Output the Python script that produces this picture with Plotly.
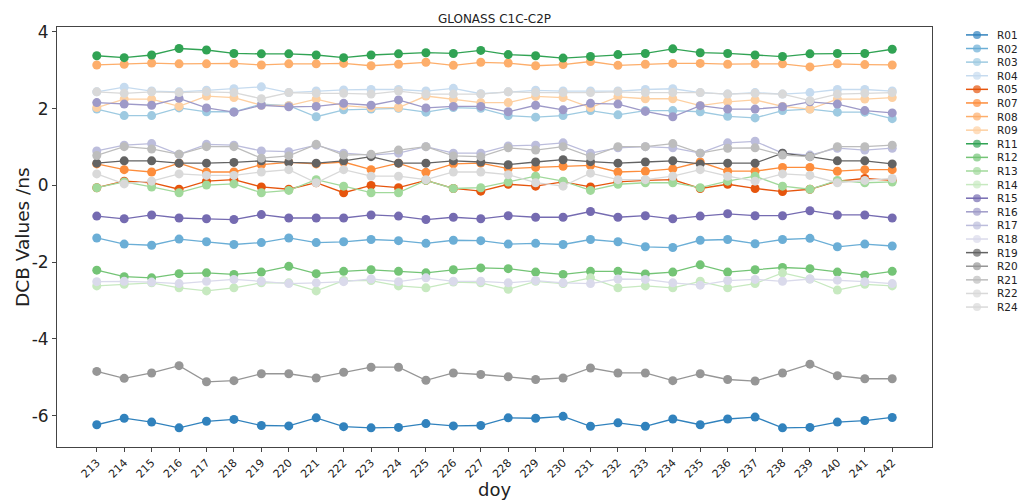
import plotly.graph_objects as go

doy = [213, 214, 215, 216, 217, 218, 219, 220, 221, 222, 223, 224, 225, 226, 227,
       228, 229, 230, 231, 232, 233, 234, 235, 236, 237, 238, 239, 240, 241, 242]

names = ["R01", "R02", "R03", "R04", "R05", "R07", "R08", "R09", "R11", "R12", "R13", "R14",
         "R15", "R16", "R17", "R18", "R19", "R20", "R21", "R22", "R24"]

colors = ["#3182bd", "#6baed6", "#9ecae1", "#c6dbef", "#e6550d", "#fd8d3c", "#fdae6b", "#fdd0a2",
          "#31a354", "#74c476", "#a1d99b", "#c7e9c0", "#756bb1", "#9e9ac8", "#bcbddc", "#dadaeb",
          "#636363", "#969696", "#bdbdbd", "#d9d9d9", "#d9d9d9"]

y_ticks = [-6, -4, -2, 0, 2, 4]
y_tick_labels = ["-6", "-4", "-2", "0", "2", "4"]

R01 = [-6.24, -6.07, -6.17, -6.32, -6.15, -6.10, -6.26, -6.27, -6.06, -6.29, -6.32, -6.31, -6.21, -6.27, -6.26,
       -6.06, -6.07, -6.02, -6.28, -6.19, -6.28, -6.09, -6.24, -6.09, -6.04, -6.32, -6.31, -6.17, -6.13, -6.05]
R02 = [-1.37, -1.53, -1.56, -1.40, -1.47, -1.54, -1.49, -1.37, -1.49, -1.47, -1.41, -1.44, -1.51, -1.43, -1.44,
       -1.53, -1.51, -1.54, -1.41, -1.47, -1.60, -1.62, -1.43, -1.41, -1.52, -1.41, -1.38, -1.60, -1.53, -1.58]
R03 = [1.99, 1.82, 1.82, 2.02, 1.92, 1.92, 2.12, 2.08, 1.79, 1.97, 1.99, 2.01, 1.91, 2.03, 2.01,
       1.82, 1.78, 1.82, 1.95, 1.84, 1.95, 1.95, 1.92, 1.80, 1.76, 1.95, 1.99, 1.91, 1.91, 1.74]
R04 = [2.44, 2.56, 2.46, 2.44, 2.48, 2.52, 2.57, 2.42, 2.46, 2.49, 2.50, 2.50, 2.46, 2.53, 2.39,
       2.44, 2.48, 2.46, 2.46, 2.46, 2.50, 2.52, 2.42, 2.38, 2.42, 2.38, 2.42, 2.50, 2.50, 2.46]
R05 = [-0.06, 0.11, 0.07, -0.10, 0.11, 0.15, -0.04, -0.10, 0.07, -0.19, 0.00, -0.06, 0.13, -0.08, -0.15,
       0.03, -0.02, 0.09, -0.04, 0.09, 0.13, 0.15, -0.08, 0.03, -0.08, -0.16, -0.10, 0.11, 0.18, 0.13]
R07 = [0.56, 0.41, 0.35, 0.58, 0.35, 0.35, 0.54, 0.60, 0.56, 0.61, 0.41, 0.58, 0.34, 0.56, 0.58,
       0.44, 0.47, 0.50, 0.52, 0.35, 0.37, 0.43, 0.61, 0.37, 0.37, 0.47, 0.47, 0.37, 0.41, 0.41]
R08 = [3.14, 3.16, 3.19, 3.17, 3.17, 3.18, 3.14, 3.17, 3.17, 3.18, 3.12, 3.16, 3.21, 3.13, 3.21,
       3.19, 3.12, 3.15, 3.23, 3.13, 3.16, 3.18, 3.18, 3.16, 3.17, 3.17, 3.09, 3.17, 3.15, 3.14]
R09 = [2.03, 2.25, 2.25, 2.06, 2.33, 2.29, 2.09, 2.08, 2.25, 2.08, 2.03, 2.03, 2.33, 2.25, 2.16,
       2.16, 2.32, 2.29, 2.03, 2.31, 2.26, 2.26, 2.08, 2.18, 2.23, 2.06, 1.99, 2.25, 2.25, 2.29]
R11 = [3.38, 3.33, 3.40, 3.57, 3.53, 3.44, 3.43, 3.43, 3.40, 3.33, 3.40, 3.43, 3.46, 3.44, 3.52,
       3.41, 3.38, 3.32, 3.36, 3.41, 3.44, 3.56, 3.46, 3.44, 3.40, 3.36, 3.43, 3.44, 3.44, 3.55]
R12 = [-2.21, -2.38, -2.41, -2.30, -2.28, -2.32, -2.26, -2.11, -2.30, -2.24, -2.20, -2.24, -2.28, -2.20, -2.15,
       -2.17, -2.26, -2.32, -2.24, -2.24, -2.31, -2.26, -2.07, -2.26, -2.20, -2.14, -2.17, -2.26, -2.34, -2.24]
R13 = [-0.06, 0.09, -0.04, -0.19, 0.01, 0.04, -0.19, -0.13, 0.15, -0.02, -0.19, -0.19, 0.13, -0.08, -0.06,
       0.09, 0.24, 0.11, -0.13, 0.03, 0.07, 0.07, -0.06, 0.11, 0.24, -0.02, -0.10, 0.13, 0.07, 0.09]
R14 = [-2.62, -2.58, -2.54, -2.67, -2.75, -2.67, -2.54, -2.54, -2.75, -2.48, -2.48, -2.62, -2.67, -2.52, -2.54,
       -2.71, -2.50, -2.56, -2.41, -2.67, -2.62, -2.67, -2.50, -2.67, -2.56, -2.28, -2.44, -2.73, -2.58, -2.62]
R15 = [-0.80, -0.87, -0.77, -0.85, -0.87, -0.89, -0.76, -0.85, -0.85, -0.85, -0.77, -0.80, -0.89, -0.83, -0.87,
       -0.79, -0.83, -0.83, -0.68, -0.83, -0.79, -0.87, -0.80, -0.74, -0.79, -0.79, -0.66, -0.77, -0.77, -0.85]
R16 = [2.16, 2.12, 2.09, 2.27, 2.02, 1.91, 2.09, 2.05, 2.06, 2.14, 2.09, 2.23, 2.02, 2.06, 2.06,
       1.92, 2.09, 1.97, 2.14, 2.12, 1.93, 1.79, 2.08, 1.99, 1.99, 2.05, 2.18, 2.12, 1.95, 1.89]
R17 = [0.90, 1.05, 1.09, 0.81, 1.07, 1.05, 0.90, 0.88, 1.05, 0.84, 0.79, 0.84, 1.01, 0.84, 0.84,
       1.03, 1.05, 1.11, 0.84, 0.98, 1.01, 0.98, 0.84, 1.11, 1.15, 0.84, 0.79, 0.97, 0.92, 0.97]
R18 = [-2.51, -2.50, -2.52, -2.56, -2.50, -2.45, -2.50, -2.56, -2.54, -2.51, -2.44, -2.51, -2.41, -2.50, -2.50,
       -2.54, -2.48, -2.54, -2.56, -2.44, -2.45, -2.54, -2.60, -2.48, -2.45, -2.50, -2.44, -2.47, -2.51, -2.56]
R19 = [0.58, 0.64, 0.64, 0.58, 0.58, 0.60, 0.64, 0.60, 0.58, 0.64, 0.75, 0.58, 0.58, 0.64, 0.61,
       0.54, 0.61, 0.67, 0.62, 0.58, 0.61, 0.64, 0.56, 0.58, 0.58, 0.84, 0.75, 0.64, 0.64, 0.56]
R20 = [-4.85, -5.03, -4.89, -4.70, -5.12, -5.09, -4.91, -4.91, -5.02, -4.87, -4.74, -4.74, -5.08, -4.89, -4.93,
       -4.99, -5.06, -5.02, -4.76, -4.89, -4.89, -5.09, -4.91, -5.06, -5.10, -4.89, -4.66, -4.96, -5.04, -5.04]
R21 = [0.78, 1.01, 0.95, 0.81, 1.01, 1.01, 0.71, 0.77, 1.07, 0.79, 0.81, 0.92, 1.01, 0.77, 0.75,
       0.98, 0.92, 1.01, 0.75, 1.01, 1.01, 1.09, 0.84, 0.97, 0.98, 0.79, 0.75, 1.01, 1.01, 1.05]
R22 = [2.44, 2.40, 2.44, 2.42, 2.44, 2.42, 2.26, 2.42, 2.40, 2.40, 2.38, 2.46, 2.38, 2.38, 2.38,
       2.44, 2.42, 2.42, 2.42, 2.44, 2.42, 2.42, 2.42, 2.38, 2.40, 2.38, 2.21, 2.38, 2.40, 2.42]
R24 = [0.30, 0.04, 0.11, 0.30, 0.26, 0.26, 0.35, 0.41, 0.07, 0.41, 0.24, 0.24, 0.15, 0.35, 0.35,
       0.28, 0.07, -0.02, 0.32, 0.15, 0.15, 0.24, 0.41, 0.24, 0.11, 0.30, 0.26, 0.07, 0.13, 0.18]

series = [R01, R02, R03, R04, R05, R07, R08, R09, R11, R12, R13, R14,
          R15, R16, R17, R18, R19, R20, R21, R22, R24]

# layout geometry (pixels)
W, H = 1030, 500
ML, MR, MT, MB = 57, 5, 27, 48
PW = W - ML - MR
PLOT_RIGHT = 932
LEG_X0 = 955
LEG_TOP, LEG_STEP = 35, 13.77

fig = go.Figure()
for name, color, vals in zip(names, colors, series):
    fig.add_trace(go.Scatter(
        x=doy, y=vals, mode="lines+markers", name=name,
        line=dict(color=color, width=1.3),
        marker=dict(size=9, color=color, line=dict(width=0)),
        showlegend=False, xaxis="x", yaxis="y"))

# hand-built legend (compact, matplotlib-like spacing)
annotations = []
for k, (name, color) in enumerate(zip(names, colors)):
    yk = LEG_TOP + k * LEG_STEP
    fig.add_trace(go.Scatter(
        x=[966, 977, 988], y=[yk, yk, yk], mode="lines+markers",
        line=dict(color=color, width=1.5),
        marker=dict(size=[0, 8, 0], color=color, line=dict(width=0)),
        showlegend=False, hoverinfo="skip", xaxis="x2", yaxis="y2"))
    annotations.append(dict(x=995, y=yk, xref="x2", yref="y2", text=name,
                            showarrow=False, xanchor="left", yanchor="middle",
                            font=dict(size=10.5, color="#222", family="DejaVu Sans")))

# y-axis title placed like matplotlib's
annotations.append(dict(x=(22 - ML) / PW, y=0.5, xref="paper", yref="paper",
                        text="DCB Values /ns", textangle=-90, showarrow=False,
                        xanchor="center", yanchor="middle",
                        font=dict(size=18.5, color="#222", family="DejaVu Sans")))

axis_common = dict(showline=True, mirror=True, linecolor="#444", linewidth=1,
                   ticks="outside", ticklen=4, tickcolor="#444",
                   showgrid=False, zeroline=False)

fig.update_layout(
    width=W, height=H,
    margin=dict(l=ML, r=MR, t=MT, b=MB),
    paper_bgcolor="white", plot_bgcolor="white",
    font=dict(family="DejaVu Sans", color="#222"),
    title=dict(text="GLONASS C1C-C2P", x=((ML + PLOT_RIGHT) / 2 - ML) / PW, xref="paper",
               xanchor="center", y=1 - 19 / H, yanchor="middle",
               font=dict(size=12, color="#222")),
    xaxis=dict(domain=[0, (PLOT_RIGHT - ML) / PW], range=[211.55, 243.45],
               tickvals=doy, ticktext=[str(d) for d in doy], tickangle=-45,
               tickfont=dict(size=11),
               title=dict(text="doy", font=dict(size=18), standoff=2),
               **axis_common),
    yaxis=dict(range=[-6.82, 4.13], tickvals=y_ticks, ticktext=y_tick_labels,
               tickfont=dict(size=17),
               **axis_common),
    xaxis2=dict(domain=[(LEG_X0 - ML) / PW, 1], range=[LEG_X0, W - MR],
                visible=False, anchor="y2", fixedrange=True),
    yaxis2=dict(domain=[0, 1], range=[H - MB, MT], visible=False,
                anchor="x2", fixedrange=True),
    annotations=annotations,
)

fig.write_html("out.html")
